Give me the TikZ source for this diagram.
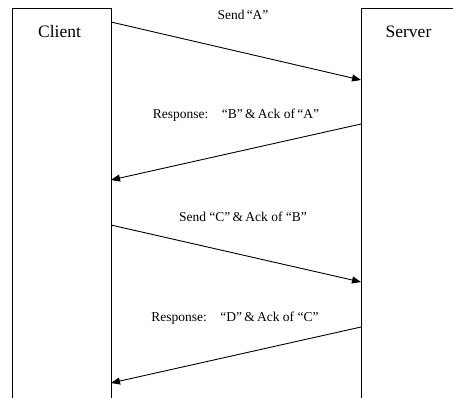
\documentclass[tikz,border=0pt]{standalone}
\usepackage{fontspec}
\setmainfont{Liberation Serif}
\usetikzlibrary{arrows.meta,positioning}

\begin{document}
\begin{tikzpicture}[x=1pt,y=-1pt,>={Triangle[length=9pt,width=7pt]},
 lane/.style={draw,line width=1pt,rectangle,minimum height=420pt,inner sep=0pt,anchor=north west},
 who/.style={font=\fontsize{17.5}{20}\selectfont,inner sep=0pt},
 msg/.style={font=\fontsize{13.5}{16}\selectfont,inner sep=1pt},
 link/.style={->,line width=0.9pt}]
\useasboundingbox (0,0) rectangle (453,397);
\node[lane,minimum width=99pt] (client) at (12,8) {};
\node[lane,minimum width=96pt] (server) at (361,8) {};
\node[who] (clientname) at (59.5,32) {Client};
\node[who] (servername) at (408.5,32) {Server};
% message end points on the lanes
\coordinate (c1) at (111,22);  \coordinate (s1) at (361,80);
\coordinate (s2) at (361,124); \coordinate (c2) at (111,180);
\coordinate (c3) at (111,225); \coordinate (s3) at (361,282);
\coordinate (s4) at (361,327); \coordinate (c4) at (111,383);
\draw[link] (c1) -- (s1);
\draw[link] (s2) -- (c2);
\draw[link] (c3) -- (s3);
\draw[link] (s4) -- (c4);
\node[msg] (m1) at (243,15) {Send\,“A”};
\node[msg] (m2) at (236,115) {Response:\quad “B”\,\&\,Ack of\,“A”};
\node[msg] (m3) at (243,217) {Send “C”\,\&\,Ack of “B”};
\node[msg] (m4) at (235,318) {Response:\quad “D”\,\&\,Ack of “C”};
\end{tikzpicture}
\end{document}
